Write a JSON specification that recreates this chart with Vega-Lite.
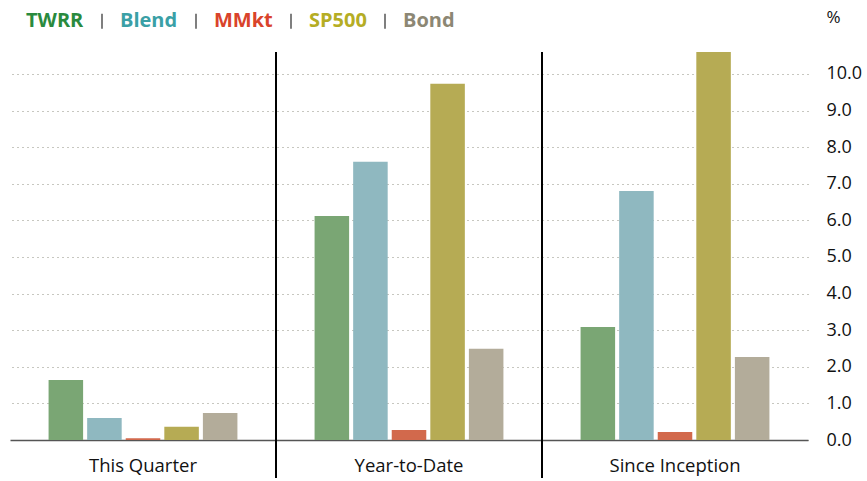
{
  "$schema": "https://vega.github.io/schema/vega-lite/v6.json",
  "width": 798,
  "height": 388,
  "autosize": {"type": "none"},
  "padding": {"left": 10, "top": 52, "right": 59, "bottom": 41},
  "config": {"view": {"stroke": null}, "font": "Open Sans"},
  "data": {
    "values": [
      {"group": "This Quarter", "series": "TWRR", "value": 1.64},
      {"group": "This Quarter", "series": "Blend", "value": 0.6},
      {"group": "This Quarter", "series": "MMkt", "value": 0.05},
      {"group": "This Quarter", "series": "SP500", "value": 0.36},
      {"group": "This Quarter", "series": "Bond", "value": 0.74},
      {"group": "Year-to-Date", "series": "TWRR", "value": 6.12},
      {"group": "Year-to-Date", "series": "Blend", "value": 7.6},
      {"group": "Year-to-Date", "series": "MMkt", "value": 0.27},
      {"group": "Year-to-Date", "series": "SP500", "value": 9.73},
      {"group": "Year-to-Date", "series": "Bond", "value": 2.49},
      {"group": "Since Inception", "series": "TWRR", "value": 3.09},
      {"group": "Since Inception", "series": "Blend", "value": 6.8},
      {"group": "Since Inception", "series": "MMkt", "value": 0.22},
      {"group": "Since Inception", "series": "SP500", "value": 10.6},
      {"group": "Since Inception", "series": "Bond", "value": 2.27}
    ]
  },
  "resolve": {"axis": {"x": "independent", "y": "independent"}},
  "layer": [
    {
      "mark": {"type": "bar"},
      "encoding": {
        "x": {
          "field": "group",
          "type": "nominal",
          "sort": ["This Quarter", "Year-to-Date", "Since Inception"],
          "scale": {"paddingInner": 0, "paddingOuter": 0},
          "axis": {
            "title": null,
            "labelAngle": 0,
            "ticks": false,
            "grid": false,
            "domainColor": "#555",
            "domainWidth": 1.5,
            "labelFontSize": 18.5,
            "labelColor": "#111",
            "labelPadding": 16
          }
        },
        "xOffset": {
          "field": "series",
          "type": "nominal",
          "sort": ["TWRR", "Blend", "MMkt", "SP500", "Bond"],
          "scale": {"paddingInner": 0.105, "paddingOuter": 1.053}
        },
        "y": {
          "field": "value",
          "type": "quantitative",
          "scale": {"domain": [0, 10.6], "nice": false},
          "axis": {
            "orient": "right",
            "values": [0, 1, 2, 3, 4, 5, 6, 7, 8, 9, 10],
            "format": ".1f",
            "labelOverlap": false,
            "grid": true,
            "gridDash": [1, 4],
            "gridColor": "#8f8f80",
            "gridWidth": 1,
            "domain": false,
            "ticks": false,
            "labelPadding": 18,
            "labelFontSize": 18,
            "labelColor": "#111",
            "title": "%",
            "titleAngle": 0,
            "titleAlign": "left",
            "titleBaseline": "middle",
            "titleX": 18,
            "titleY": -35,
            "titleFontSize": 17,
            "titleFontWeight": "normal",
            "titleColor": "#111"
          }
        },
        "color": {
          "field": "series",
          "type": "nominal",
          "scale": {
            "domain": ["TWRR", "Blend", "MMkt", "SP500", "Bond"],
            "range": ["#7aa674", "#8fb8c0", "#d2694c", "#b6ab54", "#b3ac9a"]
          },
          "legend": {
            "orient": "none",
            "legendX": -12,
            "legendY": -41,
            "direction": "horizontal",
            "title": null,
            "padding": 0,
            "symbolType": "M0,-1L0,1",
            "symbolSize": 225,
            "symbolStrokeWidth": 1.5,
            "labelFontSize": 20,
            "labelFontWeight": "bold",
            "labelOffset": 8,
            "columnPadding": 8,
            "encode": {
              "symbols": {
                "update": {
                  "stroke": {"signal": "datum.value === 'TWRR' ? 'transparent' : '#555'"},
                  "fill": {"value": "transparent"},
                  "opacity": {"value": 1}
                }
              },
              "labels": {
                "update": {
                  "fill": {"signal": "datum.value === 'TWRR' ? '#2a8a3e' : datum.value === 'Blend' ? '#3aa0a6' : datum.value === 'MMkt' ? '#d9432b' : datum.value === 'SP500' ? '#b5ad24' : '#8c8774'"}
                }
              }
            }
          }
        }
      }
    },
    {
      "data": {"values": [{"group": "Year-to-Date"}, {"group": "Since Inception"}]},
      "mark": {"type": "rule", "color": "#000", "strokeWidth": 2},
      "encoding": {
        "x": {"field": "group", "type": "nominal", "bandPosition": 0, "sort": ["This Quarter", "Year-to-Date", "Since Inception"], "axis": null},
        "y": {"datum": 10.6, "type": "quantitative", "axis": null},
        "y2": {"datum": -1.04}
      }
    }
  ]
}
